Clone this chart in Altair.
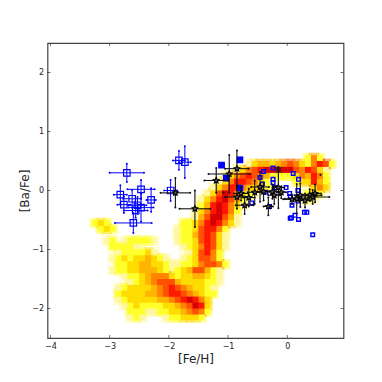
import altair as alt
import pandas as pd

X0, DX = -3.4, 0.1
# density rows: (y centre, first column, levels per column)
density_rows = [
 (0.55,37,"252"),
 (0.45,27,"134434565325762"),
 (0.35,25,"1356788988657631"),
 (0.25,23,"135676542222354752"),
 (0.15,22,"1357765321000233742"),
 (0.05,21,"13577543420000000353"),
 (-0.05,20,"136875321"),(-0.05,37,"232"),
 (-0.15,19,"135786421"),(-0.15,36,"121"),
 (-0.25,19,"24787531"),
 (-0.35,18,"13578752"),
 (-0.45,18,"14688641"),
 (-0.55,1,"232"),(-0.55,16,"2235787531"),
 (-0.65,2,"232"),(-0.65,15,"122367752"),
 (-0.75,15,"122467631"),
 (-0.85,3,"120122221"),(-0.85,15,"122367631"),
 (-0.95,4,"22221"),(-0.95,16,"12357631"),
 (-1.05,5,"1222231"),(-1.05,16,"0136752"),
 (-1.15,4,"1232334321"),(-1.15,16,"1236652"),
 (-1.25,5,"2233443321"),(-1.25,15,"122356652"),
 (-1.35,4,"1223344432023466421"),
 (-1.45,6,"12234555323344321"),
 (-1.55,7,"1234566643333221"),
 (-1.65,5,"12333345676543321"),
 (-1.75,5,"23333445677654322"),
 (-1.85,5,"1233333445678753"),
 (-1.95,6,"123222233456873"),
 (-2.05,7,"22211223345652"),
 (-2.15,7,"1210001223332"),
]
level_colors = ["#ffffff","#fff7a0","#ffff2a","#ffdc00","#ffb400","#ff8400","#ff5000","#ff1800","#d80000","#700c00"]

open_x   = [-2.71,-2.82,-2.76,-2.62,-2.47,-2.47,-2.53,-2.56,-2.30,-2.60,-1.83,-1.73,-1.97]
open_y   = [0.30,-0.07,-0.24,-0.14,0.02,-0.29,-0.25,-0.34,-0.16,-0.55,0.51,0.48,0.0]
open_xe  = [0.29,0.11,0.11,0.15,0.23,0.21,0.15,0.20,0.08,0.31,0.10,0.10,0.11]
open_ye  = [0.155,0.16,0.14,0.15,0.16,0.24,0.14,0.12,0.20,0.17,0.16,0.27,0.18]

star_x  = [-1.89,-1.56,-1.20,-0.85,-0.98,-0.85,-0.72,-0.78,-0.65,-0.55,-0.46,-0.40,-0.32,-0.25,-0.22,-0.15,-0.10,0.08,0.16,0.22,0.30,0.38,0.43,0.47]
star_y  = [-0.04,-0.31,0.17,0.37,0.28,-0.11,-0.25,-0.05,-0.12,-0.03,0.06,-0.02,-0.27,-0.02,-0.08,0.05,-0.03,-0.15,-0.14,-0.08,-0.17,-0.08,-0.11,-0.05]
star_xe = [0.25,0.26,0.20,0.20,0.35,0.20,0.15,0.12,0.10,0.12,0.15,0.10,0.08,0.10,0.10,0.10,0.08,0.15,0.20,0.10,0.10,0.20,0.28,0.10]
star_ye = [0.25,0.31,0.21,0.31,0.32,0.20,0.15,0.12,0.15,0.20,0.25,0.15,0.15,0.12,0.15,0.35,0.10,0.08,0.25,0.20,0.12,0.10,0.12,0.15]

filled_x = [-1.11,-0.80,-1.03,-0.80]
filled_y = [0.43,0.52,0.21,0.04]
small_x = [-0.40,-0.24,-0.46,-0.24,-0.24,0.10,0.19,-0.02,-0.20,-0.36,-0.42,0.04,0.05,0.18,0.18,0.18,-0.60,-0.30,0.08,0.05,0.07,0.13,0.19,0.29,0.33,0.43]
small_y = [0.32,0.38,0.22,0.19,0.13,0.29,0.19,0.05,0.05,-0.03,0.11,-0.05,-0.10,0.0,-0.10,-0.18,-0.21,-0.27,-0.25,-0.47,-0.46,-0.42,-0.49,-0.37,-0.37,-0.75]
dot_x = [0.56,-1.08]
dot_y = [0.265,-0.03]
x_ticks = [-4,-3,-2,-1,0]
y_ticks = [-2,-1,0,1,2]

W, H = 296, 295
xs = alt.Scale(domain=[-4.05,0.95], nice=False, zero=False)
ys = alt.Scale(domain=[-2.5,2.5], nice=False, zero=False)

cells = []
for yc, start, digits in density_rows:
    for k, ch in enumerate(digits):
        if ch != "0":
            x0 = X0 + DX*(start+k)
            cells.append(dict(x=x0, x2=x0+DX, y=yc-0.05, y2=yc+0.05, sx=x0-0.04, sx2=x0+DX+0.04, sy=yc-0.09, sy2=yc+0.09, lev=int(ch)))
cells = pd.DataFrame(cells).sort_values("lev")
cscale = alt.Scale(domain=list(range(10)), range=level_colors)

common = dict(grid=False, ticks=False, domain=False, format="d", labelFontSize=8, labelPadding=4,
              labelFont="DejaVu Sans", labelColor="#222", titleFont="DejaVu Sans", titleFontSize=12,
              titleFontWeight="normal", titleColor="#222")
halo = alt.Chart(cells).mark_rect(opacity=0.45).encode(
    x=alt.X("sx:Q", scale=xs, axis=alt.Axis(title="[Fe/H]", values=x_ticks, titlePadding=3, **common)),
    x2="sx2:Q",
    y=alt.Y("sy:Q", scale=ys, axis=alt.Axis(title="[Ba/Fe]", values=y_ticks, titlePadding=0, **common)),
    y2="sy2:Q",
    color=alt.Color("lev:O", scale=cscale, legend=None))
core = alt.Chart(cells).mark_rect().encode(
    x=alt.X("x:Q", scale=xs), x2="x2:Q",
    y=alt.Y("y:Q", scale=ys), y2="y2:Q",
    color=alt.Color("lev:O", scale=cscale, legend=None))

def err_layers(xv, yv, xe, ye, color, width):
    d = pd.DataFrame(dict(x=xv, y=yv, xe=xe, ye=ye))
    d["xl"], d["xh"], d["yl"], d["yh"] = d.x-d.xe, d.x+d.xe, d.y-d.ye, d.y+d.ye
    base = alt.Chart(d)
    h = base.mark_rule(color=color, strokeWidth=width).encode(x=alt.X("xl:Q", scale=xs), x2="xh:Q", y=alt.Y("y:Q", scale=ys))
    v = base.mark_rule(color=color, strokeWidth=width).encode(y=alt.Y("yl:Q", scale=ys), y2="yh:Q", x=alt.X("x:Q", scale=xs))
    caps = []
    for a, b in [("xl","y"),("xh","y"),("x","yl"),("x","yh")]:
        caps.append(base.mark_point(color=color, filled=True, size=4, opacity=1).encode(x=alt.X(f"{a}:Q", scale=xs), y=alt.Y(f"{b}:Q", scale=ys)))
    return [h, v] + caps

blue = "#0000ff"
black = "#111111"
open_err = err_layers(open_x, open_y, open_xe, open_ye, blue, 1)
open_pts = alt.Chart(pd.DataFrame(dict(x=open_x, y=open_y))).mark_square(filled=False, color=blue, size=42, strokeWidth=1.2, opacity=1).encode(
    x=alt.X("x:Q", scale=xs), y=alt.Y("y:Q", scale=ys))
small_pts = alt.Chart(pd.DataFrame(dict(x=small_x, y=small_y))).mark_square(filled=False, color=blue, size=13, strokeWidth=1.4, opacity=1).encode(
    x=alt.X("x:Q", scale=xs), y=alt.Y("y:Q", scale=ys))
filled_pts = alt.Chart(pd.DataFrame(dict(x=filled_x, y=filled_y))).mark_square(filled=True, color="#0000ff", size=46, opacity=1).encode(
    x=alt.X("x:Q", scale=xs), y=alt.Y("y:Q", scale=ys))
star_err = err_layers(star_x, star_y, star_xe, star_ye, black, 1.1)
star_path = "M0,-1L0.29,-0.4L0.95,-0.31L0.47,0.15L0.59,0.81L0,0.5L-0.59,0.81L-0.47,0.15L-0.95,-0.31L-0.29,-0.4Z"
star_pts = alt.Chart(pd.DataFrame(dict(x=star_x, y=star_y))).mark_point(shape=star_path, filled=True, fill="#555555", stroke="#000000", strokeWidth=1.1, size=36, opacity=1).encode(
    x=alt.X("x:Q", scale=xs), y=alt.Y("y:Q", scale=ys))
dots = alt.Chart(pd.DataFrame(dict(x=dot_x, y=dot_y))).mark_point(filled=True, color="#111111", size=5, opacity=1).encode(
    x=alt.X("x:Q", scale=xs), y=alt.Y("y:Q", scale=ys))

xt = alt.Chart(pd.DataFrame(dict(v=x_ticks)))
yt = alt.Chart(pd.DataFrame(dict(v=y_ticks)))
tc = "#333333"
ticks = [
    xt.mark_rule(color=tc, strokeWidth=0.7).encode(x=alt.X("v:Q", scale=xs), y=alt.value(H-3), y2=alt.value(H)),
    xt.mark_rule(color=tc, strokeWidth=0.7).encode(x=alt.X("v:Q", scale=xs), y=alt.value(0), y2=alt.value(3)),
    yt.mark_rule(color=tc, strokeWidth=0.7).encode(y=alt.Y("v:Q", scale=ys), x=alt.value(0), x2=alt.value(3)),
    yt.mark_rule(color=tc, strokeWidth=0.7).encode(y=alt.Y("v:Q", scale=ys), x=alt.value(W-3), x2=alt.value(W)),
]

chart = alt.layer(halo, core, *open_err, open_pts, small_pts, filled_pts, *star_err, star_pts, dots, *ticks).resolve_scale(
    color="shared"
).properties(
    width=W, height=H,
    padding={"left": 39.5, "top": 35, "right": 20, "bottom": 30},
    autosize=alt.AutoSizeParams(type="none"),
    background="white",
).configure_view(stroke="#444444", strokeWidth=1.2)

chart.save("out.html", embed_options={"renderer": "svg", "actions": False})
